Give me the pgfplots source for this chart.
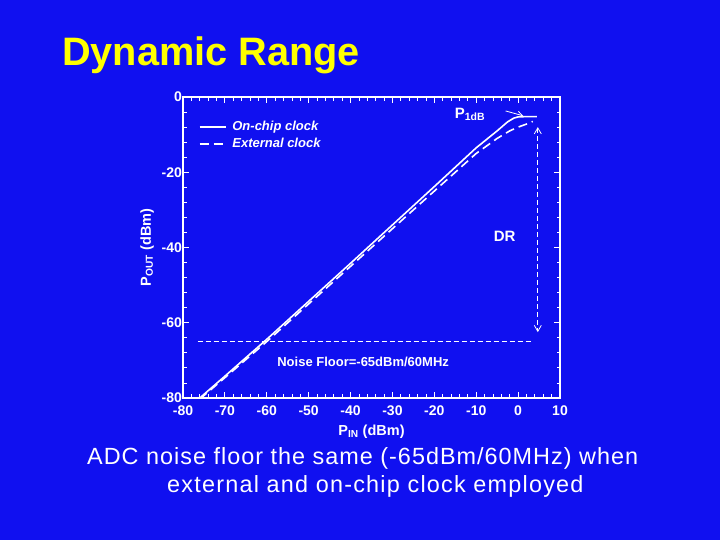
\documentclass[border=0pt]{standalone}
\usepackage{pgfplots}
\pgfplotsset{compat=1.18}
\usepackage{fontspec}
\setmainfont{Liberation Sans}
\usetikzlibrary{arrows.meta}
\definecolor{slide}{RGB}{16,16,240}
\definecolor{ttl}{RGB}{255,255,0}

\begin{document}
\begin{tikzpicture}[x=1pt,y=1pt]
\fill[slide] (0,0) rectangle (720,540);
\useasboundingbox (0,0) rectangle (720,540);
\node[anchor=base west, text=ttl, font=\bfseries\fontsize{39.7}{40}\selectfont, inner sep=0] at (62,474) {Dynamic Range};

\begin{axis}[
  at={(183pt,142pt)}, anchor=south west,
  scale only axis, width=377pt, height=301pt,
  xmin=-80, xmax=10, ymin=-80, ymax=0,
  xtick={-80,-70,...,10}, ytick={-80,-60,...,0},
  minor x tick num=4, minor y tick num=4,
  tick align=inside,
  major tick length=6pt, minor tick length=3.5pt,
  axis line style={white, line width=1.2pt},
  every tick/.style={white, line width=0.8pt},
  /pgf/number format/assume math mode=true,
  tick label style={white, font=\bfseries\fontsize{14}{14}\selectfont},
  xticklabel style={yshift=-4pt},
  yticklabel style={xshift=2.5pt},
  xlabel={P\textsubscript{IN} (dBm)},
  ylabel={P\textsubscript{OUT} (dBm)},
  every axis x label/.style={at={(axis description cs:0.5,0)}, yshift=-34pt, anchor=center,
    white, font=\bfseries\fontsize{14.5}{14.5}\selectfont},
  every axis y label/.style={at={(axis description cs:0,0.5)}, xshift=-36pt, anchor=center, rotate=90,
    white, font=\bfseries\fontsize{14.5}{14.5}\selectfont},
  legend style={at={(axis cs:-77,-5.4)}, anchor=north west, draw=none, fill=none,
    text=white, font=\bfseries\itshape\fontsize{13}{15}\selectfont, row sep=2pt,
    /tikz/every odd column/.append style={column sep=4pt}},
  legend cell align=left,
  legend image code/.code={\draw[#1] (0pt,0pt) -- (26pt,0pt);},
]
\addplot[white, line width=1.6pt] coordinates {
  (-76,-80) (-70,-74.2) (-60,-64.4) (-50,-54.3) (-40,-44.2) (-30,-34)
  (-20,-23.8) (-10,-13.5) (-5,-9) (-2.5,-6.6) (-1,-5.6) (0,-5.3) (2,-5.2) (4.5,-5.2)};
\addlegendentry{On-chip clock}
\addplot[white, line width=1.6pt, dash pattern=on 9pt off 5pt] coordinates {
  (-76,-80.3) (-70,-74.6) (-60,-65) (-50,-55) (-40,-45) (-30,-35)
  (-20,-25) (-10,-15) (-5,-11) (-2,-9) (0,-8) (2,-7.2) (3.5,-6.5)};
\addlegendentry{External clock}
\addplot[white, line width=1pt, dash pattern=on 5pt off 3pt, forget plot] coordinates {
  (-76.5,-65) (3,-65)};
\draw[white, line width=0.8pt, dash pattern=on 5pt off 3pt,
  {Straight Barb[length=6pt,width=7pt]}-{Straight Barb[length=6pt,width=7pt]}]
  (axis cs:4.7,-8) -- (axis cs:4.7,-62.5);
\draw[white, line width=0.8pt, -{Straight Barb[length=5pt,width=6pt]}]
  (axis cs:-3,-3.7) -- (axis cs:1.2,-5);
\node[white, font=\bfseries\fontsize{15}{15}\selectfont] at (axis cs:-11.5,-4.6) {P\textsubscript{1dB}};
\node[white, font=\bfseries\fontsize{15}{15}\selectfont] at (axis cs:-3.2,-37) {DR};
\node[white, font=\bfseries\fontsize{13}{13}\selectfont] at (axis cs:-37,-70.5) {Noise Floor=-65dBm/60MHz};
\end{axis}

\node[anchor=base west, white, font=\addfontfeature{LetterSpace=4.3}\fontsize{23.4}{24}\selectfont, inner sep=0] at (87,75) {ADC noise floor the same (-65dBm/60MHz) when};
\node[anchor=base west, white, font=\addfontfeature{LetterSpace=5.2}\fontsize{23.4}{24}\selectfont, inner sep=0] at (167,47) {external and on-chip clock employed};
\end{tikzpicture}
\end{document}
